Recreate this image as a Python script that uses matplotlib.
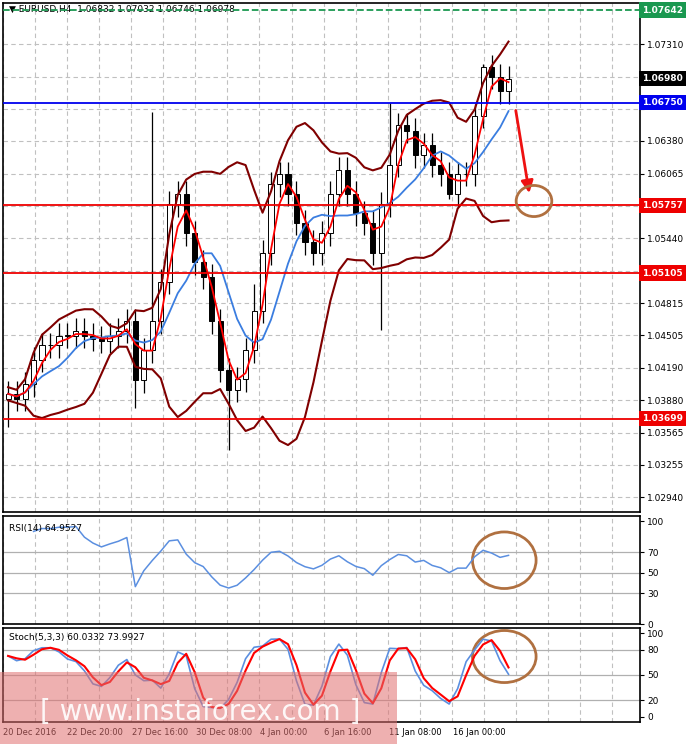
import numpy as np
import pandas as pd
import matplotlib
matplotlib.use("Agg")
import matplotlib.pyplot as plt
from matplotlib.patches import Rectangle, Ellipse

closes = [1.0394,1.0389,1.0403,1.0427,1.0441,1.0441,1.0450,1.0450,1.0455,1.0450,
          1.0447,1.0445,1.0450,1.0455,1.0464,1.0407,1.0436,1.0464,1.0502,1.0577,
          1.0587,1.0549,1.0521,1.0507,1.0464,1.0417,1.0398,1.0408,1.0436,1.0474,
          1.0530,1.0596,1.0606,1.0587,1.0559,1.0540,1.0530,1.0549,1.0587,1.0610,
          1.0587,1.0568,1.0559,1.0530,1.0577,1.0615,1.0653,1.0648,1.0624,1.0634,
          1.0615,1.0606,1.0587,1.0606,1.0606,1.0662,1.0709,1.0700,1.0686,1.0698]
wick = 0.0012
long_hi = {17: 1.0666, 19: 1.0590, 29: 1.0500, 45: 1.0675, 56: 1.0712}
long_lo = {0: 1.0362, 15: 1.0380, 26: 1.0340, 44: 1.0456, 52: 1.0582}
hlines = [(1.07642, '#1a9850', '--'), (1.06750, '#0000ee', '-'), (1.05757, '#ee0000', '-'),
          (1.05105, '#ee0000', '-'), (1.03699, '#ee0000', '-')]
yticks = [1.07310,1.06995,1.06690,1.06380,1.06065,1.05750,1.05440,1.05125,1.04815,
          1.04505,1.04190,1.03880,1.03565,1.03255,1.02940]
time_labels = ["20 Dec 2016","22 Dec 20:00","27 Dec 16:00","30 Dec 08:00",
               "4 Jan 00:00","6 Jan 16:00","11 Jan 08:00","16 Jan 00:00"]

c = pd.Series(closes)
n = len(c)
o = c.shift(1).fillna(c.iloc[0] - 0.0005)
hi = np.maximum(o, c) + wick
lo = np.minimum(o, c) - wick
for kk, v in long_hi.items(): hi[kk] = v
for kk, v in long_lo.items(): lo[kk] = v
ma_fast = c.rolling(3, min_periods=1).mean()
ma_slow = c.rolling(7, min_periods=1).mean()
mid = c.rolling(10, min_periods=1).mean()
sd = c.rolling(10, min_periods=2).std().bfill()
bb_up, bb_lo = mid + 1.8 * sd, mid - 1.8 * sd
d = c.diff().fillna(0)
up = d.clip(lower=0).ewm(alpha=1/10).mean()
dn = (-d.clip(upper=0)).ewm(alpha=1/10).mean()
rsi = 100 - 100 / (1 + up / dn.replace(0, 1e-9))
hh = pd.Series(hi).rolling(3, min_periods=1).max()
ll = pd.Series(lo).rolling(3, min_periods=1).min()
k = (100 * (c - ll) / (hh - ll)).rolling(2, min_periods=1).mean()
dline = k.rolling(2, min_periods=1).mean()

W, H = 688, 744
fig = plt.figure(figsize=(W/100, H/100), dpi=100)
fig.patch.set_facecolor('white')
def ax_at(x0, y0, x1, y1):
    return fig.add_axes([x0/W, 1-y1/H, (x1-x0)/W, (y1-y0)/H])
ax = ax_at(3, 3, 640, 512)
ax2 = ax_at(3, 516, 640, 624)
ax3 = ax_at(3, 628, 640, 722)
xl = (-0.6, 74.5)
xs = np.arange(n)
grid_x = np.arange(-0.6, 76, 3.78)
for a in (ax, ax2, ax3):
    a.set_xlim(*xl)
    a.yaxis.tick_right()
    a.tick_params(axis='y', labelsize=6.5, length=3, pad=2)
    a.set_xticks([])
    for gx in grid_x:
        a.axvline(gx, color='#c0c0c0', ls=(0, (4, 3)), lw=0.8, zorder=0)
    for s in a.spines.values(): s.set_linewidth(1.2)

ylo, yhi = 1.0280, 1.0771
ax.set_ylim(ylo, yhi)
ax.set_yticks(yticks)
covered = [v for v, _, _ in hlines] + [closes[-1]]
ax.set_yticklabels(["" if min(abs(t - v) for v in covered) < 0.0012 else f"{t:.5f}" for t in yticks])
for t in yticks:
    ax.axhline(t, color='#c0c0c0', ls=(0, (4, 3)), lw=0.8, zorder=0)
for i in range(n):
    ax.vlines(i, lo[i], hi[i], color='black', lw=0.9, zorder=2)
    bull = c[i] >= o[i]
    ax.add_patch(Rectangle((i-0.3, min(o[i], c[i])), 0.6, max(abs(c[i]-o[i]), 0.00005),
                           facecolor='white' if bull else 'black', edgecolor='black', lw=0.7, zorder=3))
ax.plot(xs, bb_up, color='#800000', lw=1.5, zorder=4)
ax.plot(xs, bb_lo, color='#800000', lw=1.5, zorder=4)
ax.plot(xs, ma_slow, color='#3a7de0', lw=1.3, zorder=4)
ax.plot(xs, ma_fast, color='#ff0000', lw=1.3, zorder=4)
for val, col, ls in hlines:
    ax.axhline(val, color=col, ls=ls, lw=1.3, zorder=5)
    ax.text(1.003, val, f"{val:.5f}", transform=ax.get_yaxis_transform(), fontsize=6.5,
            va='center', ha='left', color='white', fontweight='bold', zorder=20,
            bbox=dict(boxstyle='square,pad=0.35', fc=col, ec='none'), clip_on=False)
ax.text(1.003, closes[-1], f"{closes[-1]:.5f}", transform=ax.get_yaxis_transform(), fontsize=6.5,
        va='center', ha='left', color='white', fontweight='bold', zorder=20,
        bbox=dict(boxstyle='square,pad=0.35', fc='black', ec='none'), clip_on=False)
ax.annotate('', xy=(61.5, 1.0585), xytext=(59.8, 1.0670),
            arrowprops=dict(arrowstyle='-|>', color='#ee1111', lw=2, mutation_scale=18))
ax.add_patch(Ellipse((62, 1.0580), 4.2, 0.0030, fill=False, ec='#b07040', lw=2, zorder=6))
ax.text(0.01, 0.997, "▼ EURUSD,H4  1.06832 1.07032 1.06746 1.06978", transform=ax.transAxes,
        fontsize=6.5, va='top', ha='left')

ax2.set_ylim(0, 105)
ax2.set_yticks([0, 30, 50, 70, 100])
for t in (30, 50, 70):
    ax2.axhline(t, color='#b0b0b0', lw=0.9, zorder=0)
ax2.plot(xs[3:], rsi[3:], color='#5b8fe0', lw=1.1)
ax2.text(0.01, 0.93, "RSI(14) 64.9527", transform=ax2.transAxes, fontsize=6.5, va='top')
ax2.add_patch(Ellipse((58.5, 62), 7.5, 55, fill=False, ec='#b07040', lw=2))

ax3.set_ylim(-6, 106)
ax3.set_yticks([0, 20, 50, 80, 100])
for t in (20, 50, 80):
    ax3.axhline(t, color='#b0b0b0', lw=0.9, zorder=0)
ax3.plot(xs, k, color='#5b8fe0', lw=1.2)
ax3.plot(xs, dline, color='#ff0000', lw=1.5)
ax3.text(0.01, 0.95, "Stoch(5,3,3) 60.0332 73.9927", transform=ax3.transAxes, fontsize=6.5, va='top')
ax3.add_patch(Ellipse((58.5, 72), 7.5, 62, fill=False, ec='#b07040', lw=2))
for j, lab in enumerate(time_labels):
    ax3.text((j*64.3)/637, -0.06, lab, transform=ax3.transAxes, fontsize=6,
             va='top', ha='left')

fig.patches.append(Rectangle((0, 0), 397/W, 72/H, transform=fig.transFigure,
                             fc='#e07070', alpha=0.55, ec='none', zorder=10))
fig.text(200/W, 32/H, "[ www.instaforex.com ]", fontsize=20, color='white', ha='center',
         va='center', zorder=11, alpha=0.9)
fig.savefig("out.png", dpi=100)
